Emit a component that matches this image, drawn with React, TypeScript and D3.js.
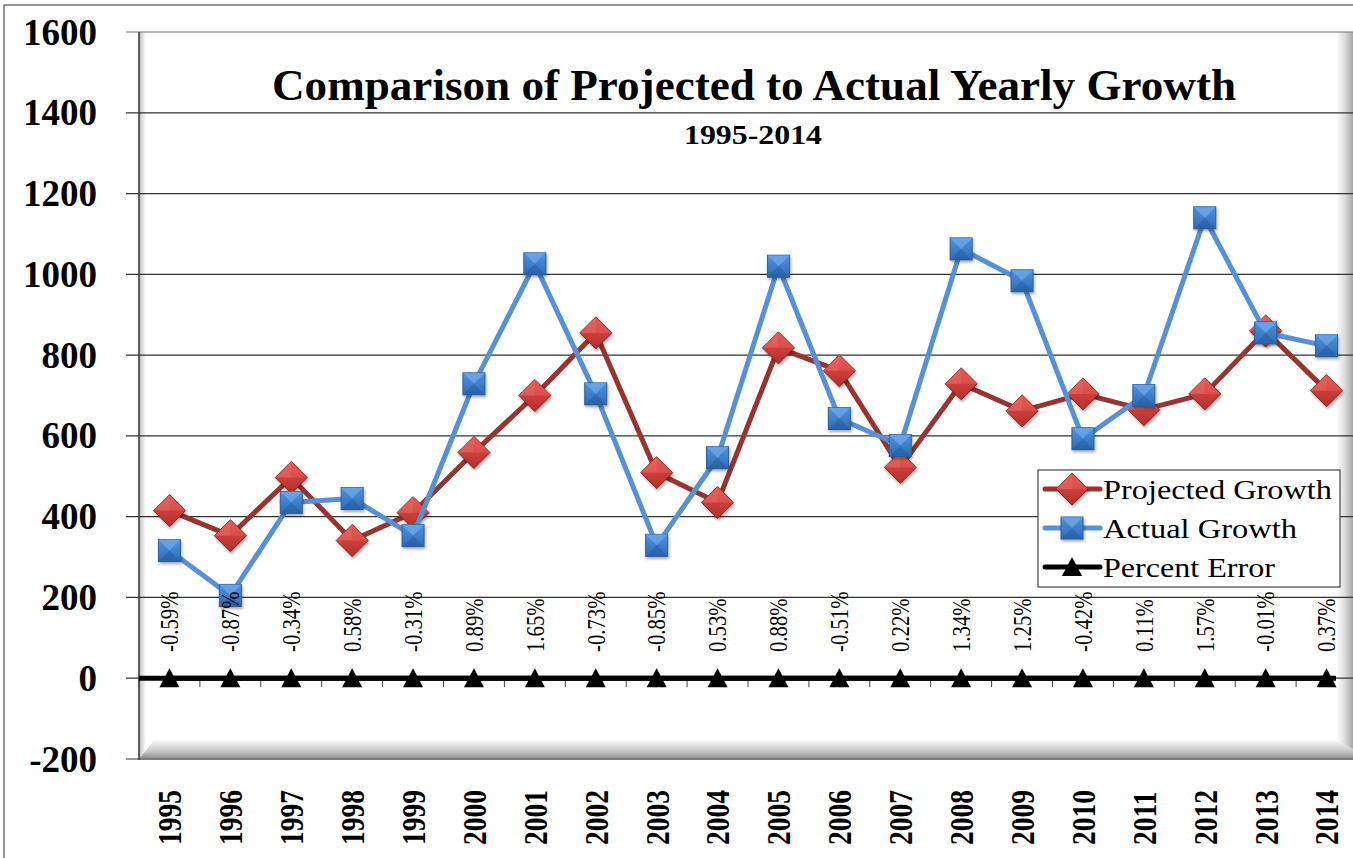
import React from "react";
import * as d3 from "d3";

const years = ["1995","1996","1997","1998","1999","2000","2001","2002","2003","2004","2005","2006","2007","2008","2009","2010","2011","2012","2013","2014"];
const projectedGrowth = [415,353,497,341,410,559,700,855,509,435,818,761,522,729,662,704,665,704,860,712];
const actualGrowth = [316,205,435,445,353,729,1026,704,329,546,1020,643,576,1063,984,593,700,1140,855,823];
const percentError = [-0.59,-0.87,-0.34,0.58,-0.31,0.89,1.65,-0.73,-0.85,0.53,0.88,-0.51,0.22,1.34,1.25,-0.42,0.11,1.57,-0.01,0.37];
const yTicks = [-200,0,200,400,600,800,1000,1200,1400,1600];
const seriesNames = ["Projected Growth","Actual Growth","Percent Error"];

const W = 1353, H = 858;
const PL = 139, PT = 32, PB = 759;
const BAND = 60.9;

export default function App() {
  const x = d3.scaleBand<string>().domain(years).range([PL, PL + BAND * years.length]);
  const cx = (yr: string) => (x(yr) as number) + x.bandwidth() / 2;
  const y = d3.scaleLinear().domain([-200, 1600]).range([PB, PT]);
  const line = d3.line<[number, number]>().x(d => d[0]).y(d => d[1]);
  const redPts: [number, number][] = years.map((yr, i) => [cx(yr), y(projectedGrowth[i])]);
  const bluePts: [number, number][] = years.map((yr, i) => [cx(yr), y(actualGrowth[i])]);
  const errPts: [number, number][] = years.map((yr, i) => [cx(yr), y(percentError[i] / 100)]);
  const font = "'Liberation Serif', 'Times New Roman', serif";

  const diamond = (px: number, py: number, k: string) => (
    <g key={k} filter="url(#shadow)">
      <path d={`M${px},${py - 16} L${px + 16},${py} L${px},${py + 16} L${px - 16},${py} Z`} fill="url(#redGrad)" stroke="#7d2422" strokeWidth={1} />
      <path d={`M${px},${py - 16} L${px + 16},${py} L${px},${py} Z`} fill="#e8605c" opacity={0.5} />
      <path d={`M${px},${py - 16} L${px - 16},${py} L${px},${py} Z`} fill="#f07a76" opacity={0.45} />
    </g>
  );
  const square = (px: number, py: number, k: string) => (
    <g key={k} filter="url(#shadow)">
      <rect x={px - 11} y={py - 11} width={22} height={22} fill="url(#blueGrad)" stroke="#2f5f98" strokeWidth={1} />
      <path d={`M${px - 11},${py - 11} L${px + 11},${py - 11} L${px},${py} Z`} fill="#7fb2ef" opacity={0.55} />
      <path d={`M${px - 11},${py + 11} L${px + 11},${py + 11} L${px},${py} Z`} fill="#1f5090" opacity={0.35} />
    </g>
  );
  const tri = (px: number, py: number, k: string) => (
    <path key={k} d={`M${px},${py - 10} L${px + 10},${py + 9} L${px - 10},${py + 9} Z`} fill="#000" />
  );

  return (
    <div style={{ position: "fixed", left: 0, top: 0 }}>
      <svg width={W} height={H} style={{ display: "block", background: "#fff" }}>
        <defs>
          <linearGradient id="redGrad" x1="0" y1="0" x2="0" y2="1">
            <stop offset="0" stopColor="#e4504c" />
            <stop offset="1" stopColor="#b52d2a" />
          </linearGradient>
          <linearGradient id="blueGrad" x1="0" y1="0" x2="0" y2="1">
            <stop offset="0" stopColor="#4f93e0" />
            <stop offset="1" stopColor="#2d6bb5" />
          </linearGradient>
          <linearGradient id="floorGrad" x1="0" y1="0" x2="0" y2="1">
            <stop offset="0" stopColor="#ffffff" />
            <stop offset="0.6" stopColor="#c8c8c8" />
            <stop offset="1" stopColor="#8a8a8a" />
          </linearGradient>
          <linearGradient id="wallGrad" x1="0" y1="0" x2="1" y2="0">
            <stop offset="0" stopColor="#ffffff" />
            <stop offset="0.5" stopColor="#dddddd" />
            <stop offset="1" stopColor="#a8a8a8" />
          </linearGradient>
          <linearGradient id="leftWall" x1="0" y1="0" x2="1" y2="0">
            <stop offset="0" stopColor="#bdbdbd" />
            <stop offset="1" stopColor="#ffffff" />
          </linearGradient>
          <filter id="shadow" x="-50%" y="-50%" width="200%" height="200%">
            <feDropShadow dx="1" dy="2" stdDeviation="1.5" floodColor="#000" floodOpacity="0.35" />
          </filter>
        </defs>
        {/* outer border */}
        <rect x={4} y={5} width={W + 10} height={H + 10} fill="#fff" stroke="#555" strokeWidth={1.2} />
        {/* left wall shading */}
        <rect x={PL} y={PT} width={7} height={PB - PT} fill="url(#leftWall)" />
        {/* right wall */}
        <rect x={1336} y={PT} width={W - 1336} height={PB - PT} fill="url(#wallGrad)" />
        {/* gridlines */}
        {yTicks.map(t => (
          <g key={t}>
            <line x1={126} x2={W} y1={y(t)} y2={y(t)} stroke={t === 1600 ? "#777" : "#333"} strokeWidth={1.2} />
          </g>
        ))}
        {/* floor */}
        <path d={`M${PL},${PB} L${PL + 16},${PB - 20} L${1336},${PB - 20} L${W},${PB - 10} L${W},${PB} Z`} fill="url(#floorGrad)" />
        <line x1={PL} x2={W} y1={PB} y2={PB} stroke="#777" strokeWidth={1.5} />
        {/* left axis */}
        <line x1={PL} x2={PL} y1={PT} y2={PB + 1} stroke="#333" strokeWidth={1.5} />
        {/* category ticks */}
        {d3.range(years.length + 1).map(i => (
          <line key={i} x1={PL + i * BAND} x2={PL + i * BAND} y1={y(0)} y2={y(0) + 9} stroke="#444" strokeWidth={1} />
        ))}
        {/* zero axis thick */}
        <line x1={PL} x2={1336} y1={y(0)} y2={y(0)} stroke="#000" strokeWidth={5} />
        {/* y tick labels */}
        {yTicks.map(t => (
          <text key={t} x={97} y={y(t)} dy="0.34em" textAnchor="end" fontFamily={font} fontWeight="bold" fontSize={37} fill="#000">{t}</text>
        ))}
        {/* series lines */}
        <path d={line(redPts) as string} fill="none" stroke="#983330" strokeWidth={5} strokeLinejoin="round" />
        {redPts.map((p, i) => diamond(p[0], p[1], "d" + i))}
        <path d={line(bluePts) as string} fill="none" stroke="#5590d8" strokeWidth={5} strokeLinejoin="round" />
        {bluePts.map((p, i) => square(p[0], p[1], "s" + i))}
        <path d={line(errPts) as string} fill="none" stroke="#000" strokeWidth={5} />
        {errPts.map((p, i) => tri(p[0], p[1], "t" + i))}
        {/* percent labels */}
        {years.map((yr, i) => (
          <text key={yr} transform={`translate(${cx(yr)},652) scale(1,0.83) rotate(-90)`} dy="0.35em" fontFamily={font} fontSize={25} fill="#000">
            {percentError[i].toFixed(2) + "%"}
          </text>
        ))}
        {/* year labels */}
        {years.map(yr => (
          <text key={yr} transform={`translate(${cx(yr)},845) scale(1,0.81) rotate(-90)`} dy="0.35em" fontFamily={font} fontWeight="bold" fontSize={34} fill="#000">
            {yr}
          </text>
        ))}
        {/* title */}
        <text x={754} y={100} textAnchor="middle" fontFamily={font} fontWeight="bold" fontSize={44} textLength={964} lengthAdjust="spacingAndGlyphs" fill="#000">
          Comparison of Projected to Actual Yearly Growth
        </text>
        <text x={753} y={144} textAnchor="middle" fontFamily={font} fontWeight="bold" fontSize={27} textLength={138} lengthAdjust="spacingAndGlyphs" fill="#000">
          1995-2014
        </text>
        {/* legend */}
        <rect x={1038} y={470} width={302} height={117} fill="#fff" stroke="#444" strokeWidth={1.2} />
        {seriesNames.map((name, i) => {
          const ly = 489 + i * 39;
          const col = i === 0 ? "#983330" : i === 1 ? "#5590d8" : "#000";
          const lens = [229, 194, 172];
          return (
            <g key={name}>
              <line x1={1045} x2={1100} y1={ly} y2={ly} stroke={col} strokeWidth={5} strokeLinecap="round" />
              {i === 0 ? diamond(1072, ly, "ld") : i === 1 ? square(1072, ly, "ls") : tri(1072, ly, "lt")}
              <text x={1103} y={ly} dy="0.34em" fontFamily={font} fontSize={28} textLength={lens[i]} lengthAdjust="spacingAndGlyphs" fill="#000">{name}</text>
            </g>
          );
        })}
      </svg>
    </div>
  );
}
